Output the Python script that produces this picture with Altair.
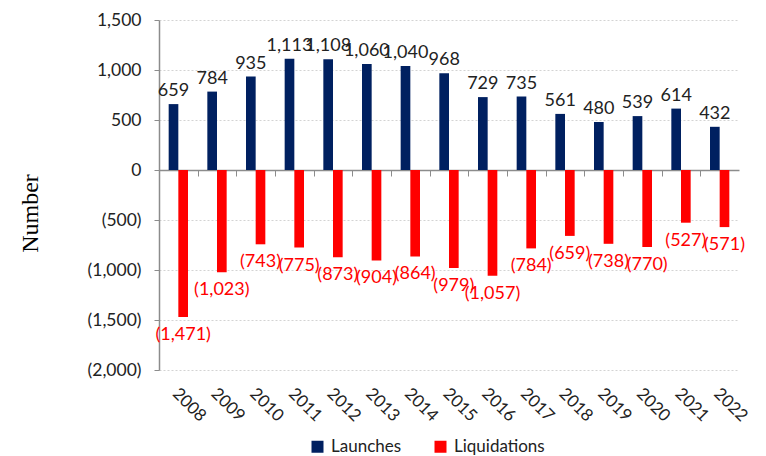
import altair as alt
import pandas as pd

years = [str(y) for y in range(2008, 2023)]
launches = [659, 784, 935, 1113, 1108, 1060, 1040, 968, 729, 735, 561, 480, 539, 614, 432]
liquidations = [-1471, -1023, -743, -775, -873, -904, -864, -979, -1057, -784, -659, -738, -770, -527, -571]
series_names = ["Launches", "Liquidations"]
series_colors = ["#002060", "#FF0000"]
y_ticks = [-2000, -1500, -1000, -500, 0, 500, 1000, 1500]

rows = []
for y, a, b in zip(years, launches, liquidations):
    rows.append({"year": y, "series": "Launches", "value": a})
    rows.append({"year": y, "series": "Liquidations", "value": b})
df = pd.DataFrame(rows)

FONT = "Lato"
W, H = 580, 350
step = W / len(years)

x_enc = alt.X(
    "year:N",
    sort=years,
    scale=alt.Scale(paddingInner=0.5, paddingOuter=0.25),
    axis=alt.Axis(
        title=None,
        labelAngle=45,
        offset=-200,
        labelPadding=209,
        tickOffset=-step / 2,
        labelOffset=step / 2 + 2,
        domainColor="#8c8c8c",
        tickColor="#8c8c8c",
        tickSize=6,
        domainWidth=1.5,
        grid=False,
        labelFont=FONT,
        labelFontSize=17,
        labelColor="#222222",
    ),
)
xoff = alt.XOffset("series:N", sort=series_names)

y_scale = alt.Scale(domain=[-2000, 1500], nice=False)

bars = alt.Chart(df).mark_bar().encode(
    x=x_enc,
    xOffset=xoff,
    y=alt.Y(
        "value:Q",
        scale=y_scale,
        axis=alt.Axis(
            values=y_ticks,
            labelExpr="datum.value < 0 ? '(' + format(-datum.value, ',') + ')' : format(datum.value, ',')",
            grid=True,
            gridColor="#d3d3d3",
            gridDash=[2, 2],
            domainColor="#8c8c8c",
            domainWidth=1.5,
            tickColor="#8c8c8c",
            tickSize=5,
            labelFont=FONT,
            labelFontSize=17.5,
            labelColor="#222222",
            labelPadding=13,
            title="Number",
            titleFont="Liberation Serif",
            titleFontSize=24,
            titleFontWeight="normal",
            titleColor="#000000",
            titlePadding=45,
            titleY=193,
        ),
    ),
    color=alt.Color(
        "series:N",
        scale=alt.Scale(domain=series_names, range=series_colors),
        legend=alt.Legend(
            title=None,
            orient="none",
            direction="horizontal",
            legendX=150,
            legendY=418,
            symbolType="square",
            symbolSize=144,
            symbolStrokeWidth=0,
            labelFont=FONT,
            labelFontSize=17,
            labelColor="#222222",
            labelOffset=5,
            columnPadding=30,
        ),
    ),
)

pos_labels = alt.Chart(df).transform_filter(
    alt.datum.series == "Launches"
).transform_calculate(
    label="format(datum.value, ',')"
).mark_text(
    baseline="bottom", dy=-4, font=FONT, fontSize=18, color="#222222"
).encode(
    x=x_enc, xOffset=xoff, y=alt.Y("value:Q", scale=y_scale), text="label:N"
)

neg_labels = alt.Chart(df).transform_filter(
    alt.datum.series == "Liquidations"
).transform_calculate(
    label="'(' + format(-datum.value, ',') + ')'"
).mark_text(
    baseline="top", dy=9, font=FONT, fontSize=18, color="#FF0000"
).encode(
    x=x_enc, xOffset=xoff, y=alt.Y("value:Q", scale=y_scale), text="label:N"
)

chart = alt.layer(bars, pos_labels, neg_labels).properties(
    width=W, height=H,
    padding={"left": 10, "top": 3, "right": 5, "bottom": 5},
).configure_view(stroke=None)

chart.save("out.html", embed_options={"renderer": "svg", "actions": False})
